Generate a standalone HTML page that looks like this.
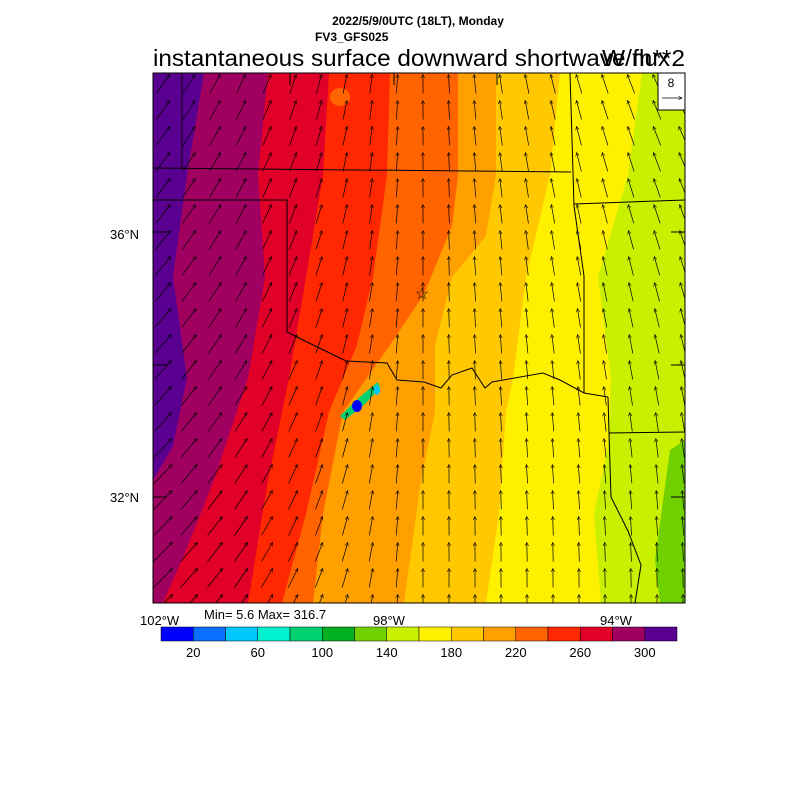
<!DOCTYPE html>
<html><head><style>
body{margin:0;background:#fff;font-family:"Liberation Sans",sans-serif}
</style></head><body>
<svg id="s" width="800" height="800" xmlns="http://www.w3.org/2000/svg" font-family="Liberation Sans, sans-serif">
<defs><clipPath id="c"><rect x="153" y="73" width="532" height="530"/></clipPath>
<marker id="m" markerWidth="6" markerHeight="6" refX="5" refY="3" orient="auto"><path d="M0,0.5 L5,3 L0,5.5" fill="none" stroke="#000" stroke-width="0.8"/></marker></defs>
<text x="418" y="25" font-size="12" font-weight="bold" text-anchor="middle">2022/5/9/0UTC (18LT), Monday</text>
<text x="315" y="41" font-size="12" font-weight="bold">FV3_GFS025</text>
<text x="153" y="66" font-size="23" textLength="517" lengthAdjust="spacingAndGlyphs">instantaneous surface downward shortwave flux</text>
<text x="602" y="66" font-size="23" textLength="83" lengthAdjust="spacingAndGlyphs">W/m**2</text>
<g clip-path="url(#c)">
<rect x="153" y="73" width="532" height="530" fill="#c8f000"/>
<polygon points="670,450 685,440 685,603 660,603 655,560" fill="#70d000"/>
<polygon points="153,73 642,73 628,175 598,277 611,378 608,446 594,514 601,603 153,603" fill="#fff000"/>
<polygon points="153,73 560,73 550,175 526,277 513,378 506,412 499,514 486,603 153,603" fill="#ffc800"/>
<polygon points="153,73 496,73 496,175 486,236 452,277 435,345 435,412 421,480 404,603 153,603" fill="#ffa000"/>
<polygon points="153,73 458,73 458,175 452,226 424,294 390,345 343,412 323,514 313,603 153,603" fill="#ff6400"/>
<polygon points="153,73 390,73 387,175 373,277 357,345 329,412 306,514 282,603 153,603" fill="#ff2800"/>
<polygon points="153,73 329,73 323,175 306,277 289,378 268,480 248,603 153,603" fill="#e00028"/>
<polygon points="153,73 268,73 258,175 265,277 248,378 214,480 187,548 163,603 153,603" fill="#a00060"/>
<polygon points="153,73 204,73 187,175 173,277 187,378 173,446 153,480" fill="#5a0090"/>
<ellipse cx="340" cy="97" rx="10" ry="9" fill="#ff6400"/>
<polygon points="340,416 362,395 378,382 380,388 365,404 345,420" fill="#00d070"/>
<ellipse cx="357" cy="406" rx="5" ry="6" fill="#0000ff"/>
<ellipse cx="377" cy="390" rx="3" ry="5" fill="#00c8ff"/>
<g fill="none" stroke="#000" stroke-width="1">
<polyline points="153,168 571,172"/>
<polyline points="182,73 182,168"/>
<polyline points="153,200 287,200 287,332 309,343 346,361 387,363 397,380 424,382 441,388 452,375 472,368 485,388 492,382 543,373 560,380 584,393 608,397"/>
<polyline points="570,73 573,172 574,206 584,276 584,393"/>
<polyline points="574,204 685,200"/>
<polyline points="608,397 609,433 611,497 628,531 641,565 635,603"/>
<polyline points="609,433 685,432"/>
<line x1="290" y1="73" x2="290" y2="85"/><line x1="394" y1="73" x2="394" y2="85"/><line x1="497" y1="73" x2="497" y2="85"/>
<line x1="153" y1="232" x2="167" y2="232"/><line x1="153" y1="365" x2="167" y2="365"/><line x1="153" y1="497" x2="167" y2="497"/>
<line x1="671" y1="232" x2="685" y2="232"/><line x1="671" y1="365" x2="685" y2="365"/><line x1="671" y1="497" x2="685" y2="497"/>
</g>
<g id="ar" stroke="#000" stroke-width="0.7" fill="none"></g>
</g>
<rect x="153" y="73" width="532" height="530" fill="none" stroke="#000"/>
<rect x="658" y="73" width="27" height="37" fill="#fff" stroke="#000"/>
<text x="671" y="87" font-size="12" text-anchor="middle">8</text>
<line x1="662" y1="98" x2="682" y2="98" stroke="#000" stroke-width="0.7" marker-end="url(#m)"/>
<text x="422" y="299" font-size="16" text-anchor="middle">☆</text>
<g font-size="13">
<text x="110" y="239">36°N</text><text x="110" y="502">32°N</text>
<text x="140" y="625">102°W</text><text x="373" y="625">98°W</text><text x="600" y="625">94°W</text>
<text x="204" y="619">Min= 5.6 Max= 316.7</text>
</g>
<g id="cb"></g>
</svg>
<script>
var ns="http://www.w3.org/2000/svg",s=document.getElementById("ar");
for(var y=84;y<610;y+=26)for(var x=163;x<690;x+=26){
var f=(x-153)/532,g=(y-73)/530,u,v=18;
if(f<0.5)u=16*(1-f/0.5)*(0.8+0.4*g);else u=-9*(f-0.5)/0.5*(1-g);
var k=1.05;
var dx=u*k,dy=-v*k;
var l=document.createElementNS(ns,"line");
l.setAttribute("x1",(x-dx/2).toFixed(1));l.setAttribute("y1",(y-dy/2).toFixed(1));l.setAttribute("x2",(x+dx/2).toFixed(1));l.setAttribute("y2",(y+dy/2).toFixed(1));
l.setAttribute("marker-end","url(#m)");s.appendChild(l);}
var cols=["#0000ff","#0a6eff","#00c8ff","#00f0d0","#00d070","#00b020","#70d000","#c8f000","#fff000","#ffc800","#ffa000","#ff6400","#ff2800","#e00028","#a00060","#5a0090"];
var cb=document.getElementById("cb"),w=516/16;
cols.forEach(function(c,i){var r=document.createElementNS(ns,"rect");r.setAttribute("x",161+i*w);r.setAttribute("y",627);r.setAttribute("width",w);r.setAttribute("height",14);r.setAttribute("fill",c);r.setAttribute("stroke","#000");r.setAttribute("stroke-width","0.5");cb.appendChild(r);});
for(var i=0;i<8;i++){var t=document.createElementNS(ns,"text");t.setAttribute("x",161+(2*i+1)*w);t.setAttribute("y",657);t.setAttribute("font-size","13");t.setAttribute("text-anchor","middle");t.textContent=20+40*i;cb.appendChild(t);}
</script>
</body></html>
